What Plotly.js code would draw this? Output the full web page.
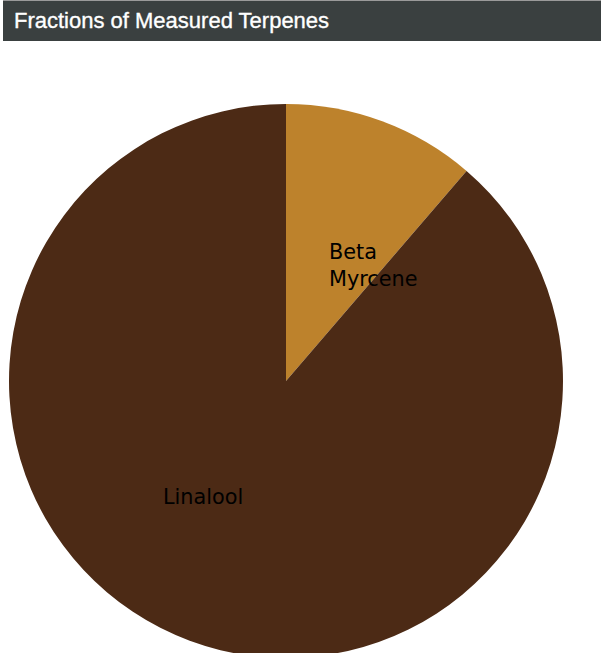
<!DOCTYPE html>
<html>
<head>
<meta charset="utf-8">
<script src="https://cdn.plot.ly/plotly-3.0.1.min.js"></script>
<style>
  html, body { margin: 0; padding: 0; width: 601px; height: 653px; overflow: hidden; background: #fff; }
  #bar { position: absolute; left: 3px; top: 0px; width: 598px; height: 41px; background: #3a4040;
         border-top: 1px solid #9a9a9a; box-sizing: border-box; z-index: 2;
         font-family: "Liberation Sans", Arial, sans-serif; font-size: 22px; color: #fff;
         line-height: 40px; padding-left: 11px; -webkit-text-stroke: 0.35px #fff; }
  #plot { position: absolute; left: 0; top: 0; width: 601px; height: 700px; }
</style>
</head>
<body>
<div id="bar">Fractions of Measured Terpenes</div>
<div id="plot"></div>
<script>
const categories = ["Beta Myrcene", "Linalool"];
const displayLabels = ["Beta<br>Myrcene", "Linalool"];
const fractions = [0.113, 0.887];
const colors = ["#bd822c", "#4c2a15"];

const W = 601, H = 700;
const cx = 286, cy = 381, R = 277;
const px = x => x / W;
const py = y => 1 - y / H;

const labelPos = [[327, 265, 'left'], [203, 497, 'center']];

const data = [{
  type: 'pie',
  labels: categories,
  values: fractions,
  marker: { colors: colors, line: { width: 0 } },
  sort: false,
  direction: 'clockwise',
  rotation: 0,
  textinfo: 'none',
  hoverinfo: 'label+percent',
  showlegend: false,
  domain: { x: [px(cx - R), px(cx + R)], y: [py(cy + R), py(cy - R)] }
}];

const annotations = displayLabels.map((t, i) => ({
  text: t,
  xref: 'paper', yref: 'paper',
  x: px(labelPos[i][0]), y: py(labelPos[i][1]),
  xanchor: labelPos[i][2] === 'left' ? 'left' : 'center',
  yanchor: 'middle',
  align: labelPos[i][2],
  showarrow: false,
  font: { family: 'DejaVu Sans', size: 20.8, color: '#000' }
}));

Plotly.newPlot('plot', data, {
  width: W, height: H,
  margin: { l: 0, r: 0, t: 0, b: 0 },
  paper_bgcolor: 'rgba(0,0,0,0)',
  plot_bgcolor: 'rgba(0,0,0,0)',
  annotations: annotations
}, { displayModeBar: false, staticPlot: true });
</script>
</body>
</html>
